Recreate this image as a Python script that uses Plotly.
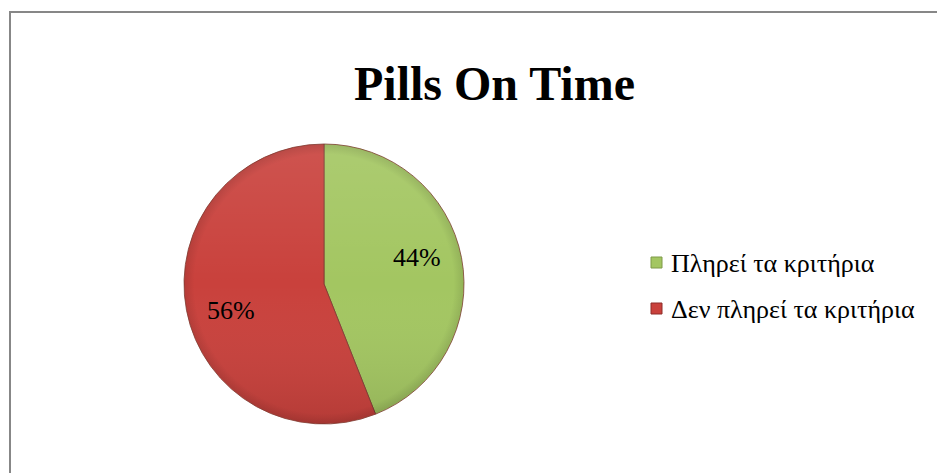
import base64
import numpy as np
import plotly.graph_objects as go

# Data
labels = ["Πληρεί τα κριτήρια", "Δεν πληρεί τα κριτήρια"]
values = [44, 56]
colors = ["#A3C661", "#C9413C"]
line_colors = ["#7E9A48", "#8E2C28"]
title_text = "Pills On Time"

W, H = 937, 473
cx, cy, r = 324, 284, 140  # pie centre and radius in pixels
SERIF = "Liberation Serif, Times New Roman, serif"

def px(x):
    return x / W

def py(y):
    return 1 - y / H

fig = go.Figure()
fig.add_trace(go.Pie(
    labels=labels,
    values=values,
    sort=False,
    direction="clockwise",
    rotation=0,
    marker=dict(colors=colors, line=dict(color="#7a3a30", width=0.8)),
    textinfo="none",
    domain=dict(x=[px(cx - r), px(cx + r)], y=[py(cy + r), py(cy - r)]),
    showlegend=False,
    hoverinfo="label+percent",
))

# Soft vertical shading laid over the pie (lighter top, darker bottom)
shade_svg = (
    '<svg xmlns="http://www.w3.org/2000/svg" width="200" height="200" viewBox="0 0 200 200">'
    '<defs><linearGradient id="g" x1="0" y1="0" x2="0" y2="1">'
    '<stop offset="0" stop-color="#ffffff" stop-opacity="0.10"/>'
    '<stop offset="0.5" stop-color="#ffffff" stop-opacity="0"/>'
    '<stop offset="1" stop-color="#000000" stop-opacity="0.10"/>'
    '</linearGradient>'
    '<radialGradient id="e" cx="0.5" cy="0.5" r="0.5">'
    '<stop offset="0.93" stop-color="#000000" stop-opacity="0"/>'
    '<stop offset="1" stop-color="#000000" stop-opacity="0.10"/>'
    '</radialGradient></defs>'
    '<circle cx="100" cy="100" r="99.6" fill="url(#g)"/>'
    '<circle cx="100" cy="100" r="99.6" fill="url(#e)"/>'
    '</svg>'
)
fig.add_layout_image(
    source="data:image/svg+xml;base64," + base64.b64encode(shade_svg.encode()).decode(),
    xref="paper", yref="paper", x=px(cx - r), y=py(cy - r),
    sizex=2 * r / W, sizey=2 * r / H, sizing="stretch",
    xanchor="left", yanchor="top", layer="above",
)

# Percentage labels placed along each slice's mid-angle
total = sum(values)
start = 0.0
for v in values:
    mid = np.deg2rad((start + v / 2) / total * 360 - 5)
    start += v
    rr = 0.69 * r
    fig.add_annotation(
        text=f"{round(v / total * 100)}%",
        x=px(cx + rr * np.sin(mid)), y=py(cy - rr * np.cos(mid)),
        xref="paper", yref="paper", xanchor="center", yanchor="middle", showarrow=False,
        font=dict(family=SERIF, size=26, color="#000000"),
    )

# Chart title
fig.add_annotation(
    text="<b>" + title_text + "</b>", x=px(494.5), y=py(83),
    xref="paper", yref="paper", xanchor="center", yanchor="middle",
    showarrow=False,
    font=dict(family=SERIF, size=48, color="#000000"),
)

# Legend: square swatches and labels
leg_x, leg_y0, leg_dy, sw = 651, 262.5, 46, 11
for i, (lab, col, lc) in enumerate(zip(labels, colors, line_colors)):
    yc = leg_y0 + i * leg_dy
    fig.add_shape(
        type="rect", xref="paper", yref="paper",
        x0=px(leg_x), x1=px(leg_x + sw), y0=py(yc + sw / 2), y1=py(yc - sw / 2),
        fillcolor=col, line=dict(color=lc, width=1),
    )
    fig.add_annotation(
        text=lab, x=px(leg_x + sw + 7), y=py(yc + 0.5),
        xref="paper", yref="paper", xanchor="left", yanchor="middle",
        showarrow=False,
        font=dict(family=SERIF, size=26, color="#000000"),
    )

# Chart area border
fig.add_shape(
    type="rect", xref="paper", yref="paper",
    x0=px(10), x1=px(W + 10), y0=py(H + 10), y1=py(12),
    line=dict(color="#878787", width=2), fillcolor="rgba(0,0,0,0)",
)

fig.update_layout(
    width=W, height=H,
    margin=dict(l=0, r=0, t=0, b=0),
    paper_bgcolor="#FFFFFF",
    plot_bgcolor="#FFFFFF",
)

fig.write_html("out.html")
